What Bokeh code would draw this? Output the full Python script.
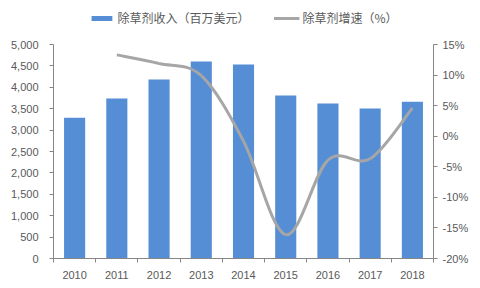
from bokeh.plotting import figure
from bokeh.models import (Range1d, LinearAxis, FixedTicker, NumeralTickFormatter,
                          PrintfTickFormatter, Legend, LegendItem, ColumnDataSource)
from bokeh.embed import file_html
from bokeh.resources import INLINE

years = ["2010", "2011", "2012", "2013", "2014", "2015", "2016", "2017", "2018"]
revenue = [3290, 3740, 4180, 4600, 4530, 3810, 3620, 3505, 3665]
growth = [None, 13.3, 11.9, 9.9, -0.8, -16.1, -3.9, -3.7, 4.6]
bar_name = "除草剂收入（百万美元）"
line_name = "除草剂增速（%）"

BLUE = "#558ED5"
GRAY = "#A6A6A6"
AXIS = "#868686"
TXT = "#595959"
NUM_FONT = "Liberation Sans"
CJK_FONT = "Noto Sans CJK SC"

W, H = 480, 288
B_LEFT, B_RIGHT, B_TOP, B_BOTTOM = 53, 47, 4, 30
AXIS_TOP_PX = 44            # pixel row where the value axes end
frame_h = H - B_TOP - B_BOTTOM
axis_h = H - B_BOTTOM - AXIS_TOP_PX
stretch = frame_h / axis_h  # extra room above the axes for the legend

L_MIN, L_MAX = 0, 5000
R_MIN, R_MAX = -20, 15

xs = [i + 0.5 for i in range(len(years))]

p = figure(width=W, height=H, output_backend="svg", toolbar_location=None,
           x_range=Range1d(0, len(years)),
           y_range=Range1d(L_MIN, L_MIN + (L_MAX - L_MIN) * stretch),
           min_border_left=B_LEFT, min_border_right=B_RIGHT,
           min_border_top=B_TOP, min_border_bottom=B_BOTTOM)
p.outline_line_color = None
p.xgrid.visible = False
p.ygrid.visible = False
p.extra_y_ranges = {"right": Range1d(R_MIN, R_MIN + (R_MAX - R_MIN) * stretch)}

bars = p.vbar(x=xs, top=revenue, width=0.5, color=BLUE, line_color=None)

# smoothed line (Catmull-Rom through the data points)
pts = [(x, y) for x, y in zip(xs, growth) if y is not None]
x0, y0, x1, y1, cx0, cy0, cx1, cy1 = [], [], [], [], [], [], [], []
n = len(pts)
for i in range(n - 1):
    pm = pts[i - 1] if i > 0 else pts[i]
    pa = pts[i]
    pb = pts[i + 1]
    pn = pts[i + 2] if i + 2 < n else pts[i + 1]
    x0.append(pa[0]); y0.append(pa[1]); x1.append(pb[0]); y1.append(pb[1])
    cx0.append(pa[0] + (pb[0] - pm[0]) / 6); cy0.append(pa[1] + (pb[1] - pm[1]) / 6)
    cx1.append(pb[0] - (pn[0] - pa[0]) / 6); cy1.append(pb[1] - (pn[1] - pa[1]) / 6)
src = ColumnDataSource(dict(x0=x0, y0=y0, x1=x1, y1=y1, cx0=cx0, cy0=cy0, cx1=cx1, cy1=cy1))
curve = p.bezier(x0="x0", y0="y0", x1="x1", y1="y1", cx0="cx0", cy0="cy0", cx1="cx1", cy1="cy1",
                 source=src, line_color=GRAY, line_width=3, y_range_name="right")

# x axis
xa = p.xaxis[0]
xa.ticker = FixedTicker(ticks=xs, minor_ticks=list(range(len(years) + 1)))
xa.major_label_overrides = {x: y for x, y in zip(xs, years)}
xa.major_tick_line_color = None
xa.minor_tick_line_color = AXIS
xa.minor_tick_out = 4
xa.minor_tick_in = 0
xa.axis_line_color = AXIS
xa.major_label_text_font = NUM_FONT
xa.major_label_text_font_size = "11px"
xa.major_label_text_color = TXT
xa.major_label_standoff = 6

# left axis
ya = p.yaxis[0]
ya.ticker = FixedTicker(ticks=list(range(L_MIN, L_MAX + 1, 500)))
ya.formatter = NumeralTickFormatter(format="0,0")
ya.bounds = (L_MIN, L_MAX)
ya.minor_tick_line_color = None
ya.major_tick_line_color = AXIS
ya.major_tick_out = 4
ya.major_tick_in = 0
ya.axis_line_color = AXIS
ya.major_label_text_font = NUM_FONT
ya.major_label_text_font_size = "11px"
ya.major_label_text_color = TXT
ya.major_label_standoff = 11

# right axis
ra = LinearAxis(y_range_name="right", ticker=FixedTicker(ticks=list(range(R_MIN, R_MAX + 1, 5))),
                formatter=PrintfTickFormatter(format="%d%%"), bounds=(R_MIN, R_MAX))
ra.minor_tick_line_color = None
ra.major_tick_line_color = AXIS
ra.major_tick_out = 4
ra.major_tick_in = 0
ra.axis_line_color = AXIS
ra.major_label_text_font = NUM_FONT
ra.major_label_text_font_size = "11px"
ra.major_label_text_color = TXT
ra.major_label_standoff = 5
p.add_layout(ra, "right")

legend = Legend(items=[LegendItem(label=bar_name, renderers=[bars]),
                       LegendItem(label=line_name, renderers=[curve])],
                orientation="horizontal", location="top_center",
                border_line_color=None, background_fill_alpha=0,
                label_text_font=CJK_FONT, label_text_font_size="12px",
                label_text_color=TXT, glyph_width=26, glyph_height=6,
                label_standoff=3, spacing=24, padding=0, margin=5)
p.add_layout(legend, "center")

open("out.html", "w").write(file_html(p, INLINE))
